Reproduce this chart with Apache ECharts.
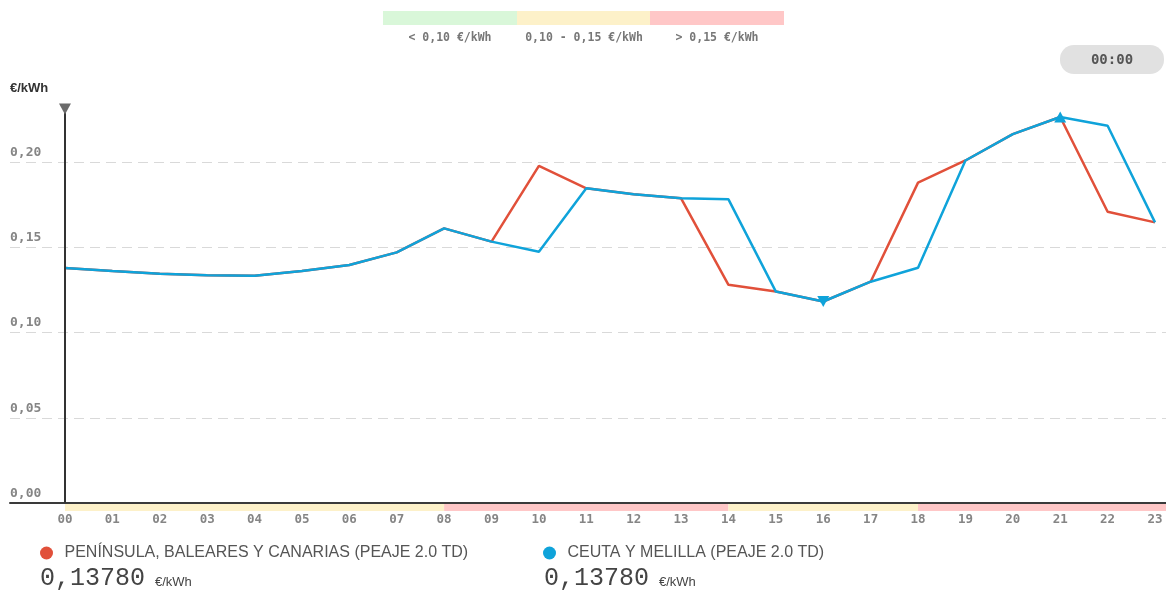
<!DOCTYPE html>
<html>
<head>
<meta charset="utf-8">
<script src="https://cdn.jsdelivr.net/npm/echarts@6/dist/echarts.min.js"></script>
<style>
  html, body { margin: 0; padding: 0; background: #fff; }
  #chart { width: 1166px; height: 592px; }
</style>
</head>
<body>
<div id="chart"></div>
<script>
// horas del día
const hours = [0, 1, 2, 3, 4, 5, 6, 7, 8, 9, 10, 11, 12, 13, 14, 15, 16, 17, 18, 19, 20, 21, 22, 23];
// €/kWh - Península, Baleares y Canarias
const peninsula = [0.1378, 0.1361, 0.1345, 0.1336, 0.1333, 0.1361, 0.1396, 0.1470, 0.1611, 0.1533, 0.1977, 0.1846,
  0.1811, 0.1787, 0.1280, 0.1240, 0.1182, 0.1298, 0.1879, 0.2009, 0.2164, 0.2264, 0.1708, 0.1646];
// €/kWh - Ceuta y Melilla
const ceuta = [0.1378, 0.1361, 0.1345, 0.1336, 0.1333, 0.1361, 0.1396, 0.1470, 0.1611, 0.1533, 0.1474, 0.1846,
  0.1811, 0.1787, 0.1781, 0.1240, 0.1182, 0.1298, 0.1380, 0.2009, 0.2164, 0.2264, 0.2213, 0.1646];
// franjas de color bajo el eje [desde, hasta, nivel]
const bands = [[0, 8, "mid"], [8, 14, "high"], [14, 18, "mid"], [18, 24, "high"]];
// leyenda de niveles
const levelLabels = ["< 0,10 €/kWh", "0,10 - 0,15 €/kWh", "> 0,15 €/kWh"];
const seriesNames = ["PENÍNSULA, BALEARES Y CANARIAS (PEAJE 2.0 TD)", "CEUTA Y MELILLA (PEAJE 2.0 TD)"];
const selectedHour = 0;

const levelColors = { low: "#d9f7d9", mid: "#fdf1c9", high: "#ffc7c7" };
const RED = "#e1503a";
const BLUE = "#0fa3da";
const MONO = "DejaVu Sans Mono";
const yMax = 0.2311;

const fmt = (v, d) => v.toFixed(d).replace(".", ",");
const pad = (h) => (h < 10 ? "0" : "") + h;

const chart = echarts.init(document.getElementById("chart"));

const option = {
  animation: false,
  grid: [
    { left: 10, right: 0, top: 109, bottom: 89 },
    { left: 10, right: 0, top: 504, height: 7 },
  ],
  xAxis: [
    {
      type: "value",
      min: -1.16,
      max: 23.232,
      axisLine: { lineStyle: { color: "#3a3a3a", width: 2 } },
      axisTick: { show: false },
      splitLine: { show: false },
      axisLabel: {
        customValues: hours,
        formatter: (v) => pad(v),
        margin: 10,
        fontFamily: MONO,
        fontWeight: "bold",
        fontSize: 12.5,
        color: "#858585",
      },
    },
    { type: "value", gridIndex: 1, min: -1.16, max: 23.232, show: false },
  ],
  yAxis: [
    {
      type: "value",
      min: 0,
      max: yMax,
      interval: 0.05,
      name: "€/kWh",
      nameLocation: "end",
      nameGap: 14,
      nameTextStyle: { align: "left", fontFamily: "Liberation Sans", fontWeight: "bold", fontSize: 13, color: "#333" },
      axisLine: { show: false, onZero: false },
      axisTick: { show: false },
      axisLabel: {
        inside: true,
        showMaxLabel: false,
        margin: 0,
        verticalAlign: "bottom",
        padding: [0, 0, 3, 0],
        formatter: (v) => fmt(v, 2),
        fontFamily: MONO,
        fontWeight: "bold",
        fontSize: 13,
        color: "#858585",
      },
      splitLine: {
        showMaxLine: false,
        lineStyle: { color: "#d9d9d9", type: [10, 6], width: 1 },
      },
    },
    { type: "value", gridIndex: 1, min: 0, max: 1, show: false },
  ],
  legend: [
    {
      data: [seriesNames[0]],
      left: 35, top: 540,
      icon: "circle", itemWidth: 22, itemHeight: 13,
      textStyle: { fontFamily: "Liberation Sans", fontSize: 16, color: "#555", padding: [0, 0, 0, 2] },
    },
    {
      data: [seriesNames[1]],
      left: 538, top: 540,
      icon: "circle", itemWidth: 22, itemHeight: 13,
      textStyle: { fontFamily: "Liberation Sans", fontSize: 16, color: "#555", padding: [0, 0, 0, 2] },
    },
  ],
  graphic: [
    // leyenda superior de niveles
    { type: "rect", left: 383, top: 11, shape: { width: 134, height: 14 }, style: { fill: levelColors.low } },
    { type: "rect", left: 517, top: 11, shape: { width: 133, height: 14 }, style: { fill: levelColors.mid } },
    { type: "rect", left: 650, top: 11, shape: { width: 134, height: 14 }, style: { fill: levelColors.high } },
    { type: "text", x: 450, y: 38, style: { text: levelLabels[0], align: "center", verticalAlign: "middle", font: "bold 11.5px " + MONO, fill: "#777" } },
    { type: "text", x: 584, y: 38, style: { text: levelLabels[1], align: "center", verticalAlign: "middle", font: "bold 11.5px " + MONO, fill: "#777" } },
    { type: "text", x: 717, y: 38, style: { text: levelLabels[2], align: "center", verticalAlign: "middle", font: "bold 11.5px " + MONO, fill: "#777" } },
    // botón de hora
    { type: "rect", left: 1060, top: 45, shape: { width: 104, height: 29, r: 14 }, style: { fill: "#e1e1e1" } },
    { type: "text", x: 1112, y: 60, style: { text: pad(selectedHour) + ":00", align: "center", verticalAlign: "middle", font: "bold 14px " + MONO, fill: "#555" } },
    // valores de la hora seleccionada
    { type: "text", x: 40, y: 578, style: { text: fmt(peninsula[selectedHour], 5), verticalAlign: "middle", font: "25px Liberation Mono", fill: "#444" } },
    { type: "text", x: 155, y: 582, style: { text: "€/kWh", verticalAlign: "middle", font: "13px Liberation Sans", fill: "#444" } },
    { type: "text", x: 544, y: 578, style: { text: fmt(ceuta[selectedHour], 5), verticalAlign: "middle", font: "25px Liberation Mono", fill: "#444" } },
    { type: "text", x: 659, y: 582, style: { text: "€/kWh", verticalAlign: "middle", font: "13px Liberation Sans", fill: "#444" } },
  ],
  series: [
    {
      name: seriesNames[0],
      type: "line",
      data: hours.map((h, i) => [h, peninsula[i]]),
      showSymbol: false,
      color: RED,
      lineStyle: { color: RED, width: 2.5 },
      markLine: {
        silent: true,
        symbol: ["none", "none"],
        label: { show: false },
        lineStyle: { color: "#333", width: 2, type: "solid" },
        data: [[{ coord: [selectedHour, 0] }, { coord: [selectedHour, yMax] }]],
      },
      markPoint: {
        silent: true,
        symbol: "triangle",
        symbolSize: [12, 11],
        symbolRotate: 180,
        itemStyle: { color: "#6b6b6b" },
        label: { show: false },
        data: [{ coord: [selectedHour, yMax] }],
      },
      z: 3,
    },
    {
      name: seriesNames[1],
      type: "line",
      data: hours.map((h, i) => [h, ceuta[i]]),
      showSymbol: false,
      color: BLUE,
      lineStyle: { color: BLUE, width: 2.5 },
      markPoint: {
        silent: true,
        symbol: "triangle",
        symbolSize: [12, 11],
        itemStyle: { color: BLUE },
        label: { show: false },
        data: [
          { type: "max" },
          { type: "min", symbolRotate: 180 },
        ],
      },
      z: 4,
    },
    {
      type: "line",
      xAxisIndex: 1,
      yAxisIndex: 1,
      data: [],
      silent: true,
      markArea: {
        silent: true,
        data: bands.map((b) => [
          { xAxis: b[0], yAxis: 0, itemStyle: { color: levelColors[b[2]] } },
          { xAxis: b[1], yAxis: 1 },
        ]),
      },
    },
  ],
};

chart.setOption(option);
</script>
</body>
</html>
